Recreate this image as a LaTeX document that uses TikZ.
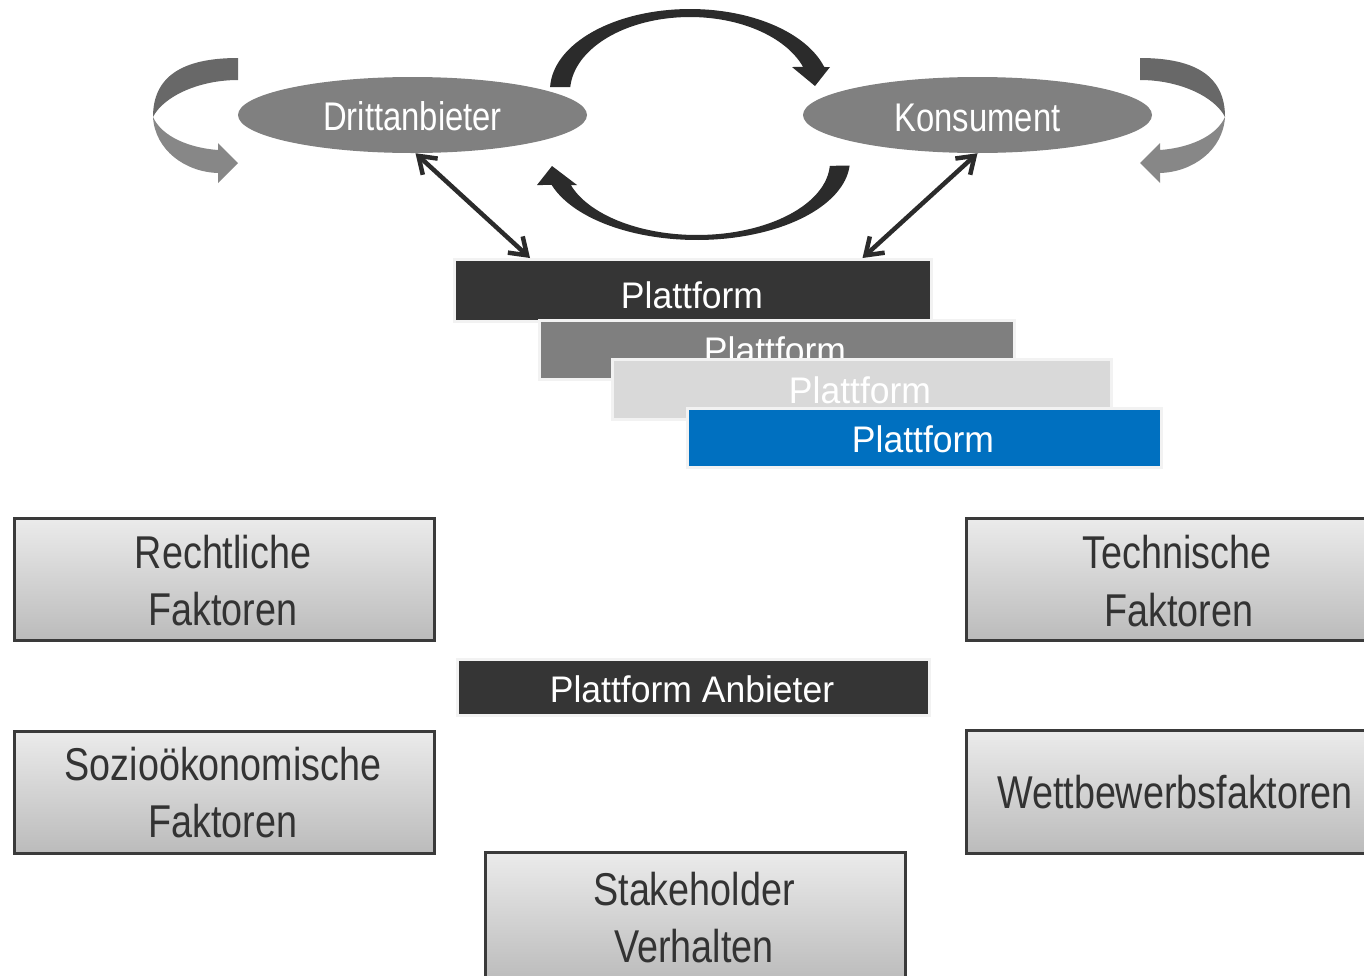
\documentclass[tikz,border=0pt]{standalone}
\usepackage{fontspec}
\setmainfont{Liberation Sans}
\newfontfamily\narrowfont{Liberation Sans}[FakeStretch=0.82]
\newfontfamily\platfont{Liberation Sans}[FakeStretch=0.96]
\usetikzlibrary{shapes.geometric,arrows.meta}
\definecolor{partner}{HTML}{808080}
\definecolor{loopdark}{HTML}{2B2B2B}
\definecolor{bandtop}{HTML}{686868}
\definecolor{bandbot}{HTML}{878787}
\definecolor{plA}{HTML}{353535}
\definecolor{plB}{HTML}{7F7F7F}
\definecolor{plC}{HTML}{D9D9D9}
\definecolor{plD}{HTML}{0070C0}
\definecolor{plEdge}{HTML}{F2F2F2}
\definecolor{facTop}{HTML}{EBEBEB}
\definecolor{facBot}{HTML}{BBBBBB}
\definecolor{facEdge}{HTML}{3A3A3A}
\definecolor{facText}{HTML}{333333}

\begin{document}
\begin{tikzpicture}[x=1pt,y=-1pt,
  actor/.style={ellipse, fill=partner, minimum width=349pt, minimum height=76pt, inner sep=0pt},
  actortext/.style={anchor=base, text=white, font=\narrowfont\fontsize{40}{48}\selectfont, inner sep=0pt},
  layer/.style={rectangle, draw=plEdge, line width=2.5pt, anchor=north west, inner sep=0pt},
  layertext/.style={anchor=base, text=white, font=\platfont\fontsize{37}{44}\selectfont, inner sep=0pt},
  factor/.style={rectangle, draw=facEdge, line width=2.5pt, top color=facTop, bottom color=facBot,
    anchor=north west, minimum width=420pt, minimum height=122pt, inner sep=0pt},
  factortext/.style={anchor=base, text=facText, font=\narrowfont\fontsize{46}{55}\selectfont, inner sep=0pt},
  sidelink/.style={draw=loopdark, line width=4.5pt,
    {Straight Barb[length=16pt,width=22pt]}-{Straight Barb[length=16pt,width=22pt]}},
  swirl/.style={fill=loopdark},
]
\useasboundingbox (0,0) rectangle (1364,975);
\clip (0,0) rectangle (1364,975);

% --- side loops (self-interaction of each market side)
\begin{scope}
  \fill[bandtop] (238,58) .. controls (180,58) and (153,78) .. (153,117)
                 .. controls (163,97) and (198,80) .. (238,80) -- cycle;
  \fill[bandbot] (153,117) .. controls (155,150) and (185,172) .. (218,173)
                 -- (218,183) -- (238,163) -- (218,143) -- (218,150)
                 .. controls (190,148) and (162,137) .. (153,117) -- cycle;
\end{scope}
\begin{scope}[xshift=1378pt, xscale=-1]
  \fill[bandtop] (238,58) .. controls (180,58) and (153,78) .. (153,117)
                 .. controls (163,97) and (198,80) .. (238,80) -- cycle;
  \fill[bandbot] (153,117) .. controls (155,150) and (185,172) .. (218,173)
                 -- (218,183) -- (238,163) -- (218,143) -- (218,150)
                 .. controls (190,148) and (162,137) .. (153,117) -- cycle;
\end{scope}

% --- exchange loop between the two market sides
\fill[swirl] plot[domain=178:16.5,samples=60] ({690+140*cos(\x)},{90-81*sin(\x)})
  -- (830,67) -- (815,86) -- (792,67)
  -- plot[domain=19.5:176.2,samples=60] ({690+120*cos(\x)},{92-75*sin(\x)}) -- cycle;
\fill[swirl] plot[domain=4:161.8,samples=60] ({697+153*cos(\x)},{160+80*sin(\x)})
  -- (537,185) -- (552,166) -- (577,185)
  -- plot[domain=161.6:3,samples=60] ({697+133*cos(\x)},{162+73*sin(\x)}) -- cycle;

% --- market sides
\node[actor] (drt) at (412.5,115) {};
\node[actortext] (drtT) at (412.5,130) {Drittanbieter};
\node[actor] (kon) at (977.5,115) {};
\node[actortext] (konT) at (977.5,131) {Konsument};

% --- stacked platforms
\node[layer, fill=plA, minimum width=477pt, minimum height=62pt] (pA) at (453,258) {};
\node[layertext] (pAT) at (692,308) {Plattform};
\node[layer, fill=plB, minimum width=475pt, minimum height=59pt] (pB) at (538,319) {};
\node[layertext] (pBT) at (775,363) {Plattform};
\node[layer, fill=plC, minimum width=499pt, minimum height=60pt] (pC) at (611,358) {};
\node[layertext] (pCT) at (860,403) {Plattform};
\node[layer, fill=plD, minimum width=474pt, minimum height=59pt] (pD) at (686,407) {};
\node[layertext] (pDT) at (923,452) {Plattform};

% --- connections between market sides and platform
\draw[sidelink] ([xshift=3pt]drt.south) -- ([xshift=77pt]pA.north west);
\draw[sidelink] (kon.south) -- ([xshift=-70pt]pA.north east);

% --- platform provider
\node[layer, fill=plA, minimum width=472pt, minimum height=56pt] (anb) at (456,658) {};
\node[layertext] (anbT) at (692,702) {Plattform Anbieter};

% --- influencing factors
\node[factor] (rech) at (13,517) {};
\node[factortext] (rechT1) at (223,568) {Rechtliche};
\node[factortext] (rechT2) at (223,625) {Faktoren};

\node[factor] (sozi) at (13,730) {};
\node[factortext] (soziT1) at (223,780) {Sozioökonomische};
\node[factortext] (soziT2) at (223,837) {Faktoren};

\node[factor] (tech) at (965,517) {};
\node[factortext] (techT1) at (1177,568) {Technische};
\node[factortext] (techT2) at (1179,626) {Faktoren};

\node[factor, minimum height=123pt] (wett) at (965,729) {};
\node[factortext] (wettT) at (1175,808) {Wettbewerbsfaktoren};

\node[factor, minimum height=130pt] (stak) at (484,851) {};
\node[factortext] (stakT1) at (694,905) {Stakeholder};
\node[factortext] (stakT2) at (694,962) {Verhalten};
\end{tikzpicture}
\end{document}
